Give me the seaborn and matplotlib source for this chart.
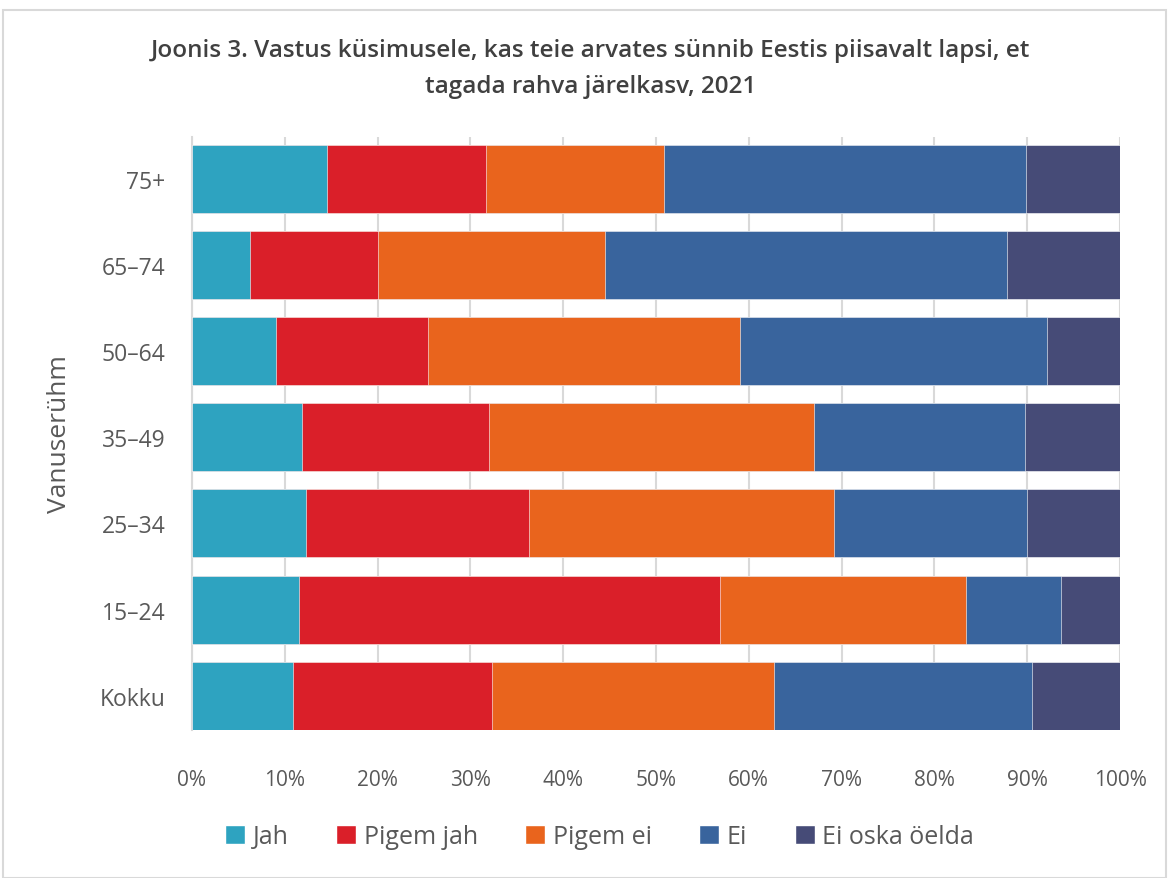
import pandas as pd
import matplotlib.pyplot as plt
import seaborn as sns
from matplotlib.patches import Patch, Rectangle
from matplotlib.ticker import PercentFormatter

groups = ['75+', '65–74', '50–64', '35–49', '25–34', '15–24', 'Kokku']
answers = ['Jah', 'Pigem jah', 'Pigem ei', 'Ei', 'Ei oska öelda']
colors = ['#2EA3C0', '#DA1F29', '#E9641D', '#39649D', '#464B77']

jah = [14.5, 6.3, 9.0, 11.9, 12.3, 11.5, 10.9]
pigem_jah = [17.2, 13.7, 16.4, 20.1, 24.0, 45.4, 21.4]
pigem_ei = [19.2, 24.5, 33.6, 35.0, 32.9, 26.5, 30.4]
ei = [39.0, 43.3, 33.15, 22.8, 20.8, 10.25, 27.8]
ei_oska = [10.1, 12.2, 7.85, 10.2, 10.0, 6.35, 9.5]

title = 'Joonis 3. Vastus küsimusele, kas teie arvates sünnib Eestis piisavalt lapsi, et\ntagada rahva järelkasv, 2021'

df = pd.DataFrame({'group': groups, 'Jah': jah, 'Pigem jah': pigem_jah,
                   'Pigem ei': pigem_ei, 'Ei': ei, 'Ei oska öelda': ei_oska})
cum = df[answers].cumsum(axis=1)
cum['group'] = df['group']

sns.set_style('white')
plt.rcParams['font.family'] = ['Open Sans', 'DejaVu Sans']

fig = plt.figure(figsize=(11.69, 8.79), dpi=100)
ax = fig.add_axes([192 / 1169, 1 - 731 / 879, (1120 - 192) / 1169, (731 - 138) / 879])

# stacked bars: draw cumulative totals from the last answer down to the first
for ans, col in reversed(list(zip(answers, colors))):
    sns.barplot(data=cum, x=ans, y='group', order=groups, color=col,
                width=0.79, saturation=1, edgecolor='#ffffff', linewidth=0.4,
                ax=ax, zorder=3)

ax.set_xlim(0, 100)
ax.set_ylim(6.4, -0.49)
ax.xaxis.set_major_locator(plt.MultipleLocator(10))
ax.xaxis.set_major_formatter(PercentFormatter(decimals=0))
ax.grid(axis='x', color='#D9D9D9', linewidth=1.5, zorder=0)
for s in ['top', 'right', 'bottom']:
    ax.spines[s].set_visible(False)
ax.spines['left'].set_color('#D9D9D9')
ax.spines['left'].set_linewidth(1.5)
ax.tick_params(axis='x', length=9, width=1.5, color='#D9D9D9', pad=19,
               labelsize=15, labelcolor='#595959')
ax.tick_params(axis='y', length=0, pad=19, labelsize=16.5, labelcolor='#595959')
ax.set_xlabel('')
ax.set_ylabel('Vanuserühm', fontsize=19, color='#595959', labelpad=20)

fig.text(0.505, 1 - 69 / 879, title, ha='center', va='center', fontsize=17.5,
         fontweight='semibold', color='#404040', linespacing=1.65)

handles = [Patch(facecolor=c, label=a) for a, c in zip(answers, colors)]
fig.legend(handles=handles, loc='center', bbox_to_anchor=(0.513, 1 - 838 / 879),
           ncol=5, frameon=False, fontsize=18, labelcolor='#595959',
           handlelength=0.8, handleheight=0.8, handletextpad=0.3, columnspacing=1.9)

fig.patches.append(Rectangle((3 / 1169, 0), 1 - 6 / 1169, 1 - 11 / 879,
                             transform=fig.transFigure, fill=False,
                             edgecolor='#D9D9D9', linewidth=1.5))

fig.savefig('out.png', dpi=100)
